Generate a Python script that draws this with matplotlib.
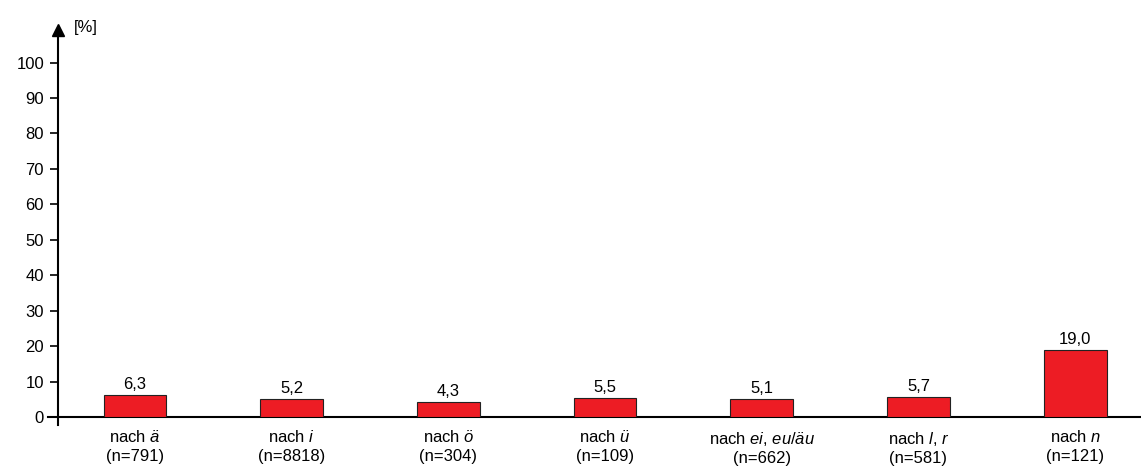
import matplotlib.pyplot as plt
import numpy as np

plt.rcParams['font.family'] = ['Liberation Sans', 'DejaVu Sans']
plt.rcParams['mathtext.fontset'] = 'custom'
plt.rcParams['mathtext.rm'] = 'Liberation Sans'
plt.rcParams['mathtext.it'] = 'Liberation Sans:italic'

categories = [r'nach $\mathit{ä}$', r'nach $\mathit{i}$', r'nach $\mathit{ö}$', r'nach $\mathit{ü}$',
              r'nach $\mathit{ei{,}\ eu/äu}$', r'nach $\mathit{l{,}\ r}$', r'nach $\mathit{n}$']
counts = [791, 8818, 304, 109, 662, 581, 121]
values = [6.3, 5.2, 4.3, 5.5, 5.1, 5.7, 19.0]

W, H = 1141, 470
fs = 12
fig = plt.figure(figsize=(W / 100, H / 100), dpi=100)
ax = fig.add_axes([58 / W, 53 / H, 1 - 58 / W, (417 - 20) / H])

x = np.arange(len(values))
ax.bar(x, values, width=0.4, color='#ED1C24', edgecolor='#222222', linewidth=0.8, zorder=3)
for xi, v in zip(x, values):
    ax.text(xi, v + 0.8, f'{v:.1f}'.replace('.', ','), ha='center', va='bottom', fontsize=fs)

ax.set_xlim(-0.491, 6.42)
ax.set_ylim(0, 112)
ax.set_yticks(range(0, 101, 10))
ax.set_xticks(x)
ax.set_xticklabels([f'{c}\n(n={n})' for c, n in zip(categories, counts)], fontsize=fs, linespacing=1.3)
ax.tick_params(axis='x', length=0, pad=9)
ax.tick_params(axis='y', length=6, width=1.2, direction='out', labelsize=fs, pad=4)

for s in ['top', 'right', 'bottom', 'left']:
    ax.spines[s].set_visible(False)

# axes lines extending a bit past origin, arrow on y axis
ax.plot([-0.009, 1], [0, 0], transform=ax.transAxes, color='black', lw=1.5, clip_on=False)
ax.plot([0, 0], [-0.02, 0.975], transform=ax.transAxes, color='black', lw=1.5, clip_on=False)
ax.plot([0], [0.975], transform=ax.transAxes, marker='^', markersize=9, color='black', clip_on=False)
ax.text(16 / (W - 58), 0.98, '[%]', transform=ax.transAxes, fontsize=fs, va='center', ha='left')

fig.savefig('out.png', dpi=100)
